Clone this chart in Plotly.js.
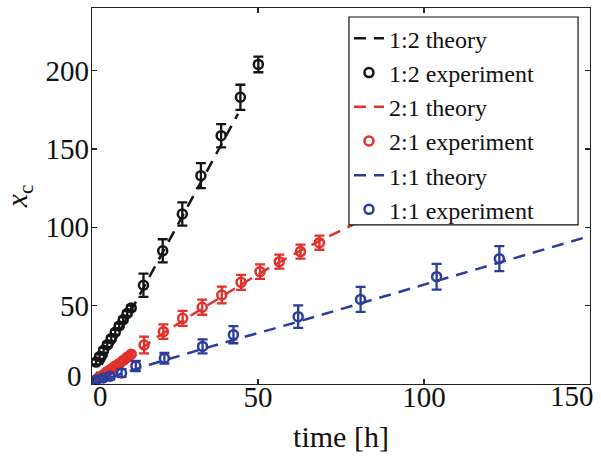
<!DOCTYPE html>
<html>
<head>
<meta charset="utf-8">
<script src="https://cdn.plot.ly/plotly-3.0.1.min.js"></script>
<style>html,body{margin:0;padding:0;background:#fff;}#chart{width:601px;height:457px;}</style>
</head>
<body>
<div id="chart"></div>
<script>
// ---- data ----
const blackTheoryX = [0, 10, 20, 30, 40, 44];
const blackTheoryY = [1, 40, 79, 118, 157, 172.5];
const blackExpX = [1.2, 2.3, 3.5, 4.6, 5.8, 7.0, 8.2, 9.4, 10.6, 11.8, 15.5, 21.3, 27.2, 32.8, 38.9, 44.7, 50.1];
const blackExpY = [14, 17.5, 21.5, 25, 29, 33, 37, 41, 45, 48.5, 63, 85, 108.5, 133, 158.5, 183, 204];
const blackExpErr = [1.5, 1.5, 1.5, 1.5, 1.5, 1.5, 1.5, 1.5, 1.5, 1.5, 7.4, 7.4, 7.4, 8, 7.4, 8, 5];

const redTheoryX = [0, 10, 20, 30, 40, 50, 60, 70, 80, 90];
const redTheoryY = [0, 15.5, 30.5, 44, 57, 70, 82, 93, 103, 113];
const redExpX = [1.2, 2.3, 3.5, 4.6, 5.8, 7.0, 8.2, 9.4, 10.6, 11.8, 15.7, 21.5, 27.3, 33.2, 39.1, 44.9, 50.6, 56.4, 62.8, 68.5];
const redExpY = [2.5, 4.5, 6, 8, 9.5, 11.5, 13, 15, 17, 19, 24.9, 33.4, 41.9, 49, 56.8, 64.9, 71.7, 78.1, 84.5, 90.2];
const redExpErr = [1.5, 1.5, 1.5, 1.5, 1.5, 1.5, 1.5, 1.5, 1.5, 1.5, 5.3, 4.6, 4.8, 4.8, 5.3, 4.8, 4.6, 4.5, 4.5, 4.5];

const blueTheoryX = [0, 10, 20, 40, 60, 80, 100, 120, 150];
const blueTheoryY = [0, 7.5, 14, 26.5, 38.5, 51, 63.5, 76, 94.5];
const blueExpX = [1.2, 3.4, 5.5, 8.9, 13.2, 21.8, 33.3, 42.6, 62.1, 80.9, 103.8, 122.7];
const blueExpY = [2.5, 3.8, 5, 7, 11.5, 16.5, 24, 31.5, 43, 54, 68.5, 80];
const blueExpErr = [1.5, 1.5, 2, 2.5, 3.2, 3.4, 4.5, 5.5, 7.2, 8, 8.2, 8];

const names = ['1:2 theory', '1:2 experiment', '2:1 theory', '2:1 experiment', '1:1 theory', '1:1 experiment'];
const xTickVals = [50, 100];
const yTickVals = [50, 100, 150, 200];
const edgeLabels = ['0', '150', '0'];

// ---- styles ----
const BLACK = '#151515', RED = '#e2302a', BLUE = '#2a3d9e';
const FONT = 'Liberation Serif';
const DASH = '12px,8px';

function theory(x, y, color, name) {
  return {x: x, y: y, type: 'scatter', mode: 'lines', name: name,
    line: {color: color, width: 2.5, dash: DASH}, hoverinfo: 'skip'};
}
function expt(x, y, e, color, name) {
  return {x: x, y: y, type: 'scatter', mode: 'markers', name: name,
    marker: {symbol: 'circle-open', size: 9, color: color, line: {width: 2.5, color: color}},
    error_y: {type: 'data', array: e, visible: true, color: color, thickness: 2.3, width: 5}};
}

const data = [
  theory(blackTheoryX, blackTheoryY, BLACK, names[0]),
  expt(blackExpX, blackExpY, blackExpErr, BLACK, names[1]),
  theory(redTheoryX, redTheoryY, RED, names[2]),
  expt(redExpX, redExpY, redExpErr, RED, names[3]),
  theory(blueTheoryX, blueTheoryY, BLUE, names[4]),
  expt(blueExpX, blueExpY, blueExpErr, BLUE, names[5])
];

const axisCommon = {
  showgrid: false, zeroline: false, showline: true, linecolor: '#222', linewidth: 1.3,
  mirror: 'ticks', ticks: 'inside', ticklen: 5, tickwidth: 1.2, tickcolor: '#222',
  tickfont: {family: FONT, size: 29, color: '#111'}
};

const layout = {
  width: 601, height: 457,
  margin: {l: 92, r: 11, t: 8, b: 73},
  paper_bgcolor: '#fff', plot_bgcolor: '#fff',
  font: {family: FONT, color: '#111'},
  xaxis: Object.assign({}, axisCommon, {
    range: [0, 150], tickmode: 'array', tickvals: xTickVals, ticklabelstandoff: -13,
    title: {text: 'time [h]', font: {family: FONT, size: 30, color: '#111'}, standoff: 14}
  }),
  yaxis: Object.assign({}, axisCommon, {
    range: [0, 240], tickmode: 'array', tickvals: yTickVals, ticklabelstandoff: -4,
    title: {text: '<i>x</i><sub>c</sub>', font: {family: FONT, size: 30, color: '#111'}, standoff: 20}
  }),
  showlegend: true,
  legend: {
    x: 0.516, y: 0.978, xanchor: 'left', yanchor: 'top',
    bgcolor: 'rgba(0,0,0,0)', borderwidth: 0,
    font: {family: FONT, size: 24, color: '#111'},
    traceorder: 'normal'
  },
  shapes: [
    {type: 'rect', xref: 'paper', yref: 'paper', x0: 0.516, x1: 0.976, y0: 0.423, y1: 0.976,
     fillcolor: '#ffffff', line: {color: '#111', width: 1.2}, layer: 'above'}
  ],
  annotations: [
    {x: 0, y: 0, xref: 'x', yref: 'paper', text: edgeLabels[0], showarrow: false, yanchor: 'top', xanchor: 'center',
     xshift: 8, yshift: 6, font: {family: FONT, size: 29, color: '#111'}},
    {x: 150, y: 0, xref: 'x', yref: 'paper', text: edgeLabels[1], showarrow: false, yanchor: 'top', xanchor: 'center',
     xshift: -18, yshift: 6, font: {family: FONT, size: 29, color: '#111'}},
    {x: 0, y: 0, xref: 'paper', yref: 'y', text: edgeLabels[2], showarrow: false, xanchor: 'right', yanchor: 'middle',
     xshift: -8, yshift: 8, font: {family: FONT, size: 29, color: '#111'}}
  ]
};

Plotly.newPlot('chart', data, layout, {staticPlot: true, displayModeBar: false});
</script>
</body>
</html>
